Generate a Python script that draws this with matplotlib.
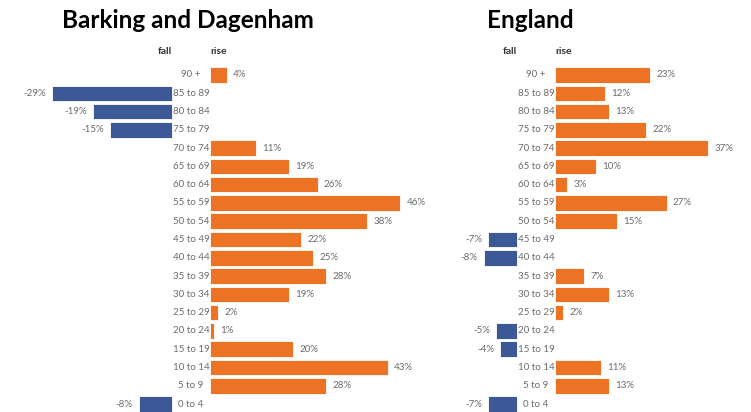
import numpy as np
import matplotlib.pyplot as plt

plt.rcParams['font.family'] = ['Lato', 'DejaVu Sans']

# age bands, top to bottom
ages = ['90 +', '85 to 89', '80 to 84', '75 to 79', '70 to 74', '65 to 69',
        '60 to 64', '55 to 59', '50 to 54', '45 to 49', '40 to 44', '35 to 39',
        '30 to 34', '25 to 29', '20 to 24', '15 to 19', '10 to 14', '5 to 9',
        '0 to 4']

# percentage change per age band
barking = [4, -29, -19, -15, 11, 19, 26, 46, 38, 22, 25, 28, 19, 2, 1, 20, 43, 28, -8]
england = [23, 12, 13, 22, 37, 10, 3, 27, 15, -7, -8, 7, 13, 2, -5, -4, 11, 13, -7]

ORANGE = '#EC7323'
BLUE = '#3D5897'
GREY = '#6b6b6b'

W, H = 751, 412
PX = 4.14      # pixels per percentage point
GAP = 19 / PX  # half-gap holding the age labels


def panel(ax, values, center_px, left_px, right_px):
    vals = np.array(values)
    y = np.arange(len(vals))
    ax.set_xlim((left_px - center_px) / PX, (right_px - center_px) / PX)
    ax.set_ylim((H - 75) / 18.28, -75 / 18.28)
    ax.axis('off')

    neg = vals < 0
    ax.barh(y[neg], vals[neg], left=-GAP, height=0.85, color=BLUE,
            edgecolor='white', linewidth=0.6)
    ax.barh(y[~neg], vals[~neg], left=GAP, height=0.85, color=ORANGE,
            edgecolor='white', linewidth=0.6)

    for yi, v, lab in zip(y, vals, ages):
        ax.text(0, yi, lab, ha='center', va='center', fontsize=7, color=GREY)
        if v < 0:
            ax.text(-GAP + v - 1.5, yi, f'{v}%', ha='right', va='center',
                    fontsize=7, color=GREY)
        else:
            ax.text(GAP + v + 1.5, yi, f'{v}%', ha='left', va='center',
                    fontsize=7, color=GREY)

    ax.text(-GAP, -1.26, 'fall', ha='right', va='center', fontsize=7.5,
            fontweight='bold', color='#333333')
    ax.text(GAP, -1.26, 'rise', ha='left', va='center', fontsize=7.5,
            fontweight='bold', color='#333333')
    return ax


fig = plt.figure(figsize=(W / 100, H / 100), dpi=100)
ax1 = fig.add_axes([0, 0, 450 / W, 1])
ax2 = fig.add_axes([450 / W, 0, 301 / W, 1])

panel(ax1, barking, 191, 0, 450)
panel(ax2, england, 536, 450, 751)

ax1.text((62 - 191) / PX, -3.0, 'Barking and Dagenham', ha='left', va='center',
         fontsize=17.5, fontweight='bold', color='black')
ax2.text((487 - 536) / PX, -3.0, 'England', ha='left', va='center',
         fontsize=17.5, fontweight='bold', color='black')

fig.savefig('out.png', dpi=100)
